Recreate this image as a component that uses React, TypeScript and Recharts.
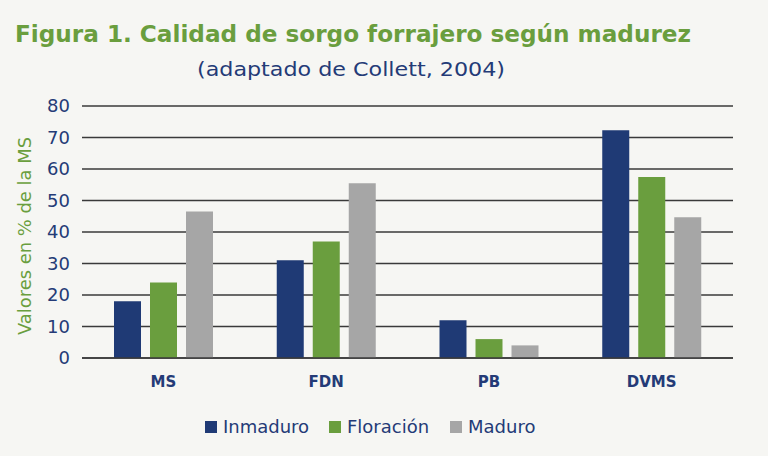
import React from "react";
import { BarChart, Bar, XAxis, YAxis, CartesianGrid, Legend } from "recharts";

const categories = ["MS", "FDN", "PB", "DVMS"];
const inmaduro = [18, 31, 12, 72.3];
const floracion = [24, 37, 6, 57.5];
const maduro = [46.5, 55.5, 4, 44.7];
const seriesNames = ["Inmaduro", "Floración", "Maduro"];
const seriesColors = ["#1F3A75", "#6A9E3E", "#A6A6A6"];
const yTicks = [0, 10, 20, 30, 40, 50, 60, 70, 80];

const data = categories.map((c, i) => ({
  name: c,
  Inmaduro: inmaduro[i],
  "Floración": floracion[i],
  Maduro: maduro[i],
}));

const NAVY = "#243B77";
const GREEN = "#6A9E3E";
const itemWidths = [124, 121, 100];

const LegendContent = () => (
  <div style={{ display: "flex", justifyContent: "flex-start", alignItems: "center", paddingLeft: 183 }}>
    {seriesNames.map((n, i) => (
      <div key={n} style={{ display: "flex", alignItems: "center", width: itemWidths[i] }}>
        <div style={{ width: 12, height: 12, background: seriesColors[i], marginRight: 6, flexShrink: 0 }} />
        <span style={{ fontFamily: "DejaVu Sans", fontSize: 18, color: NAVY, whiteSpace: "nowrap" }}>{n}</span>
      </div>
    ))}
  </div>
);

export default function App() {
  return (
    <div style={{ position: "absolute", left: 0, top: 0, width: 768, height: 456, background: "#F6F6F3", overflow: "hidden" }}>
      <svg width={768} height={456} style={{ position: "absolute", left: 0, top: 0 }}>
        <text x={15} y={42} fill={GREEN} fontFamily="DejaVu Sans" fontWeight="bold" fontSize={22.5} textLength={676} lengthAdjust="spacingAndGlyphs">
          Figura 1. Calidad de sorgo forrajero según madurez
        </text>
        <text x={197} y={76} fill={NAVY} fontFamily="DejaVu Sans" fontSize={19} textLength={308} lengthAdjust="spacingAndGlyphs">
          (adaptado de Collett, 2004)
        </text>
        <text
          x={0}
          y={0}
          transform="translate(31,335) rotate(-90)"
          fill={GREEN}
          fontFamily="DejaVu Sans"
          fontSize={17}
          textLength={198}
          lengthAdjust="spacingAndGlyphs"
        >
          Valores en % de la MS
        </text>
      </svg>
      <div style={{ position: "absolute", left: 0, top: 0 }}>
        <BarChart
          width={768}
          height={456}
          data={data}
          margin={{ top: 106, right: 35, left: 22, bottom: 44 }}
          barGap={9}
          barSize={27}
        >
          <CartesianGrid vertical={false} stroke="#3A3A3A" strokeWidth={1.5} />
          <XAxis
            dataKey="name"
            axisLine={{ stroke: "#3A3A3A", strokeWidth: 1.5 }}
            tickLine={false}
            height={30}
            tickMargin={12}
            tick={{ fill: NAVY, fontFamily: "DejaVu Sans", fontWeight: "bold", fontSize: 15 }}
          />
          <YAxis
            domain={[0, 80]}
            ticks={yTicks}
            width={60}
            axisLine={false}
            tickLine={false}
            tickSize={0}
            tickMargin={12}
            tick={{ fill: NAVY, fontFamily: "DejaVu Sans", fontSize: 18 }}
          />
          <Legend verticalAlign="bottom" height={24} wrapperStyle={{ bottom: 16 }} content={<LegendContent />} />
          {seriesNames.map((n, i) => (
            <Bar key={n} dataKey={n} fill={seriesColors[i]} isAnimationActive={false} />
          ))}
        </BarChart>
      </div>
    </div>
  );
}
